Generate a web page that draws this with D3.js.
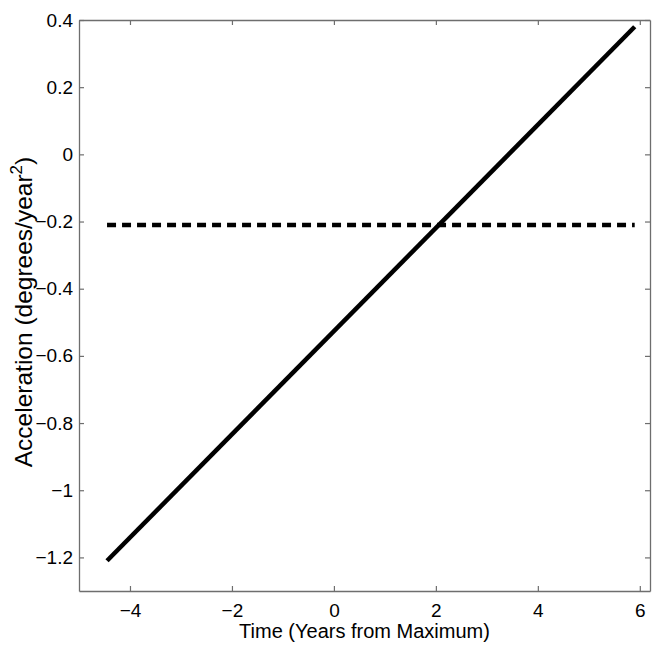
<!DOCTYPE html>
<html>
<head>
<meta charset="utf-8">
<script src="https://cdn.jsdelivr.net/npm/d3@7"></script>
<style>
  body { margin: 0; background: #fff; }
  svg { display: block; }
  .axis text { font-family: "Liberation Sans", Arial, sans-serif; font-size: 19px; fill: #000; }
  .label { font-family: "Liberation Sans", Arial, sans-serif; fill: #000; }
</style>
</head>
<body>
<script>
// data
const xDomain = [-5, 6.2];
const yDomain = [-1.3, 0.4];
const xTicks = [-4, -2, 0, 2, 4, 6];
const yTicks = [-1.2, -1, -0.8, -0.6, -0.4, -0.2, 0, 0.2, 0.4];

// fitted acceleration (solid) and mean acceleration (dashed)
const fitTime = [-4.45, 5.9];
const fitAccel = [-1.21, 0.38];
const meanTime = [-4.45, 5.9];
const meanAccel = [-0.21, -0.21];

const width = 654, height = 654;
const margin = {left: 79, right: 4, top: 20, bottom: 63};

const svg = d3.select('body').append('svg')
  .attr('width', width)
  .attr('height', height);

const x = d3.scaleLinear()
  .domain(xDomain)
  .range([margin.left, width - margin.right]);

const y = d3.scaleLinear()
  .domain(yDomain)
  .range([height - margin.bottom, margin.top]);

const fmt = d => d3.format('')(d).replace('-', '\u2212');
const axisColor = '#6e6e6e';

// box with inward ticks on all four sides
function styleAxis(g) {
  g.select('.domain').attr('stroke', axisColor).attr('stroke-width', 1.3);
  g.selectAll('.tick line').attr('stroke', axisColor).attr('stroke-width', 1.2);
}

svg.append('g')
  .attr('class', 'axis')
  .attr('transform', `translate(0,${y.range()[0]})`)
  .call(d3.axisBottom(x).tickValues(xTicks).tickFormat(fmt).tickSizeInner(-5).tickSizeOuter(0).tickPadding(13))
  .call(styleAxis);

svg.append('g')
  .attr('class', 'axis')
  .attr('transform', `translate(0,${y.range()[1]})`)
  .call(d3.axisTop(x).tickValues(xTicks).tickFormat('').tickSizeInner(-5).tickSizeOuter(0))
  .call(styleAxis);

svg.append('g')
  .attr('class', 'axis')
  .attr('transform', `translate(${x.range()[0]},0)`)
  .call(d3.axisLeft(y).tickValues(yTicks).tickFormat(fmt).tickSizeInner(-5).tickSizeOuter(0).tickPadding(6))
  .call(styleAxis);

svg.append('g')
  .attr('class', 'axis')
  .attr('transform', `translate(${x.range()[1]},0)`)
  .call(d3.axisRight(y).tickValues(yTicks).tickFormat('').tickSizeInner(-5).tickSizeOuter(0))
  .call(styleAxis);

const line = d3.line()
  .x(d => x(d[0]))
  .y(d => y(d[1]));

svg.append('path')
  .datum(d3.zip(meanTime, meanAccel))
  .attr('fill', 'none')
  .attr('stroke', '#000')
  .attr('stroke-width', 4.5)
  .attr('stroke-dasharray', '9,6')
  .attr('d', line);

svg.append('path')
  .datum(d3.zip(fitTime, fitAccel))
  .attr('fill', 'none')
  .attr('stroke', '#000')
  .attr('stroke-width', 4.5)
  .attr('d', line);

// axis titles
svg.append('text')
  .attr('class', 'label')
  .attr('font-size', '20px')
  .attr('x', (x.range()[0] + x.range()[1]) / 2)
  .attr('y', 638)
  .attr('text-anchor', 'middle')
  .text('Time (Years from Maximum)');

const yl = svg.append('text')
  .attr('class', 'label')
  .attr('font-size', '24.5px')
  .attr('transform', 'translate(32,312) rotate(-90)')
  .attr('text-anchor', 'middle');
yl.append('tspan').text('Acceleration (degrees/year');
yl.append('tspan').attr('dy', -10).attr('font-size', '17px').text('2');
yl.append('tspan').attr('dy', 10).text(')');
</script>
</body>
</html>
